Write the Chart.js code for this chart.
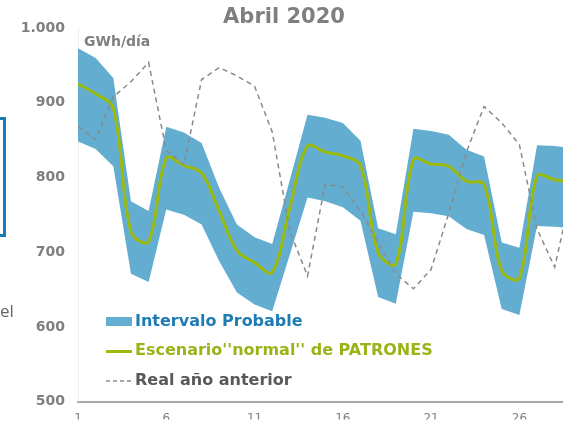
<!DOCTYPE html>
<html lang="es">
<head>
<meta charset="UTF-8">
<title>Abril 2020</title>
<script src="https://cdn.jsdelivr.net/npm/chart.js@4.4.1/dist/chart.umd.min.js"></script>
<style>
  html, body { margin: 0; padding: 0; background: #fff; overflow: hidden; }
  #wrap { position: relative; width: 563px; height: 423px; overflow: hidden; }
  #chart { display: block; }
  #box { position: absolute; left: -12px; top: 117px; width: 12px; height: 114px; border: 3px solid #1a7ab8; }
  #word { position: absolute; left: 0; top: 299px; font: 17px "Open Sans", sans-serif; color: #666; }
</style>
</head>
<body>
<div id="wrap">
  <canvas id="chart" width="600" height="423"></canvas>
  <div id="box"></div>
  <div id="word">el</div>
</div>
<script>
// dias de abril
const days = Array.from({length: 30}, (_, i) => String(i + 1))

// intervalo probable (GWh/dia)
const upper = [973, 960, 933, 768, 755, 868, 860, 846, 786, 737, 720, 711, 797, 884, 880,
               873, 849, 732, 724, 865, 862, 857, 837, 828, 713, 706, 843, 842, 839]
const lower = [848, 838, 815, 671, 660, 757, 750, 737, 688, 646, 630, 621, 697, 773, 768,
               760, 742, 640, 631, 754, 752, 748, 731, 723, 624, 616, 735, 734, 732]
// escenario "normal" de PATRONES
const normal = [925, 912, 893, 727, 714, 826, 816, 806, 755, 702, 686, 673, 760, 842, 834,
                829, 816, 700, 684, 824, 818, 815, 795, 791, 675, 665, 802, 797, 794]
// real año anterior
const lastYear = [868, 851, 908, 928, 954, 836, 817, 931, 947, 936, 922, 861, 728, 668, 791,
                  787, 755, 713, 671, 651, 677, 752, 834, 895, 873, 844, 731, 680, 785]

const BAND = '#63aed0'
const GREEN = '#9bba0c'
const DASH = '#8a8a8a'
const FONT = '"DejaVu Sans", Verdana, sans-serif'

const decor = {
  id: 'decor',
  afterDraw(chart) {
    const ctx = chart.ctx
    ctx.save()
    ctx.textBaseline = 'middle'
    ctx.fillStyle = '#7f7f7f'
    ctx.textAlign = 'center'
    ctx.font = 'bold 21px ' + FONT
    ctx.fillText('Abril 2020', 284, 18)
    ctx.textAlign = 'left'
    ctx.font = 'bold 14px ' + FONT
    ctx.fillText('GWh/día', 84, 42)

    // leyenda
    ctx.font = 'bold 16px ' + FONT
    ctx.fillStyle = BAND
    ctx.fillRect(106, 317, 26, 9)
    ctx.fillStyle = '#1f7bb4'
    ctx.fillText('Intervalo Probable', 135, 321.5)

    ctx.strokeStyle = GREEN
    ctx.lineWidth = 3
    ctx.beginPath(); ctx.moveTo(106, 351.5); ctx.lineTo(132, 351.5); ctx.stroke()
    ctx.fillStyle = '#98b418'
    ctx.fillText("Escenario''normal'' de PATRONES", 135, 351)

    ctx.strokeStyle = DASH
    ctx.lineWidth = 1.5
    ctx.setLineDash([4, 3])
    ctx.beginPath(); ctx.moveTo(106, 381); ctx.lineTo(133, 381); ctx.stroke()
    ctx.setLineDash([])
    ctx.fillStyle = '#595959'
    ctx.fillText('Real año anterior', 135, 380.5)
    ctx.restore()
  }
}

new Chart(document.getElementById('chart'), {
  type: 'line',
  data: {
    labels: days,
    datasets: [
      {
        label: 'Intervalo Probable',
        data: upper,
        borderWidth: 0,
        pointRadius: 0,
        backgroundColor: BAND,
        fill: '+1',
        order: 3
      },
      {
        label: 'inferior',
        data: lower,
        borderWidth: 0,
        pointRadius: 0,
        fill: false,
        order: 3
      },
      {
        label: "Escenario''normal'' de PATRONES",
        data: normal,
        borderColor: GREEN,
        borderWidth: 3,
        pointRadius: 0,
        tension: 0.35,
        fill: false,
        order: 2
      },
      {
        label: 'Real año anterior',
        data: lastYear,
        borderColor: DASH,
        borderWidth: 1.5,
        borderDash: [5, 4],
        pointRadius: 0,
        fill: false,
        order: 1
      }
    ]
  },
  options: {
    responsive: false,
    animation: false,
    layout: { padding: { top: 28, right: 8, left: 0, bottom: 0 } },
    plugins: {
      legend: { display: false },
      title: { display: false },
      tooltip: { enabled: false }
    },
    scales: {
      x: {
        grid: { display: false, drawTicks: false },
        border: { color: '#a6a6a6', width: 2 },
        afterFit: s => { s.height = 18 },
        ticks: {
          autoSkip: false,
          maxRotation: 0,
          padding: 10,
          color: '#7f7f7f',
          font: { family: FONT, size: 12 },
          callback: (v, i) => (i % 5 === 0 ? days[i] : '')
        }
      },
      y: {
        min: 500,
        max: 1000,
        grid: { display: false, drawTicks: false },
        border: { color: '#eeeeee', width: 1 },
        afterFit: s => { s.width = 78 },
        ticks: {
          stepSize: 100,
          padding: 13,
          color: '#7f7f7f',
          font: { family: FONT, size: 14, weight: 'bold' },
          callback: v => v.toLocaleString('de-DE')
        }
      }
    }
  },
  plugins: [decor]
})
</script>
</body>
</html>
